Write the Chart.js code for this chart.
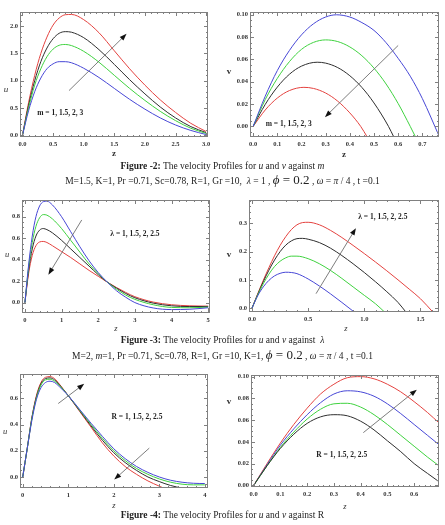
<!DOCTYPE html>
<html>
<head>
<meta charset="utf-8">
<script src="https://cdn.jsdelivr.net/npm/chart.js@4.4.1/dist/chart.umd.min.js"></script>
<style>
  html, body { margin: 0; padding: 0; background: #fff; }
  #page { position: relative; width: 445px; height: 525px; overflow: hidden; background: #fff; }
  #page canvas { position: absolute; }
  .cap { position: absolute; left: 0; width: 445px; text-align: center; white-space: nowrap;
         font-family: "Liberation Serif", "DejaVu Serif", serif; font-size: 9.5px; line-height: 10px; color: #222; }
  .cap .big { font-size: 13px; line-height: 10px; }
</style>
</head>
<body>
<div id="page">
  <canvas id="p1"></canvas>
  <canvas id="p2"></canvas>
  <div class="cap" style="top:161px"><b>Figure -2:</b> The velocity Profiles for <i>u</i> and <i>v</i> against <i>m</i></div>
  <div class="cap" style="top:175px">M=1.5, K=1, Pr =0.71, Sc=0.78, R=1, Gr =10,&nbsp; <i>λ</i> = 1 , <span class="big"><i>ϕ</i> = 0.2</span> , <i>ω</i> = <i>π</i> / 4 , t =0.1</div>
  <canvas id="p3"></canvas>
  <canvas id="p4"></canvas>
  <div class="cap" style="top:335px"><b>Figure -3:</b> The velocity Profiles for <i>u</i> and <i>v</i> against&nbsp; <i>λ</i></div>
  <div class="cap" style="top:350px">M=2, <i>m</i>=1, Pr =0.71, Sc=0.78, R=1, Gr =10, K=1, <span class="big"><i>ϕ</i> = 0.2</span> , <i>ω</i> = <i>π</i> / 4 , t =0.1</div>
  <canvas id="p5"></canvas>
  <canvas id="p6"></canvas>
  <div class="cap" style="top:510px"><b>Figure -4:</b> The velocity Profiles for <i>u</i> and <i>v</i> against R</div>
  <div class="cap" style="top:525px">M=2, <i>m</i>=1, Pr =0.71, Sc=0.78, K=1, Gr =10, <i>λ</i> = 1 , <span class="big"><i>ϕ</i> = 0.2</span> , <i>ω</i> = <i>π</i> / 4 , t =0.1</div>
</div>

<script>
'use strict';

// ─── colours / fonts ───
const RED = '#e4423f';
const BLACK = '#2e2e2e';
const GREEN = '#3fd23f';
const BLUE = '#4747d6';
const SERIF = '"Liberation Serif", "DejaVu Serif", serif';

// ─── Figure 2, u against m ───
const p1Z     = [0, 0.1, 0.2, 0.3, 0.4, 0.5, 0.6, 0.7, 0.8, 1.0, 1.25, 1.5, 1.75, 2.0, 2.25, 2.5, 2.75, 3.0];
const p1Red   = [0, 0.60, 1.10, 1.50, 1.80, 2.02, 2.15, 2.21, 2.215, 2.12, 1.88, 1.55, 1.22, 0.92, 0.65, 0.42, 0.22, 0.07];
const p1Black = [0, 0.55, 1.00, 1.35, 1.60, 1.77, 1.87, 1.90, 1.89, 1.79, 1.57, 1.30, 1.02, 0.76, 0.52, 0.32, 0.16, 0.05];
const p1Green = [0, 0.50, 0.92, 1.22, 1.44, 1.58, 1.65, 1.665, 1.645, 1.54, 1.34, 1.10, 0.86, 0.64, 0.44, 0.27, 0.13, 0.035];
const p1Blue  = [0, 0.45, 0.80, 1.05, 1.22, 1.31, 1.35, 1.35, 1.33, 1.23, 1.06, 0.86, 0.66, 0.48, 0.32, 0.19, 0.09, 0.015];
const p1XTicks = [0, 0.5, 1.0, 1.5, 2.0, 2.5, 3.0];
const p1YTicks = [0, 0.5, 1.0, 1.5, 2.0];

// ─── Figure 2, v against m ───
const p2BlueZ  = [0, 0.05, 0.1, 0.15, 0.2, 0.25, 0.3, 0.345, 0.4, 0.45, 0.5, 0.55, 0.6, 0.65, 0.7, 0.77];
const p2Blue   = [0, 0.027, 0.050, 0.068, 0.082, 0.092, 0.098, 0.100, 0.098, 0.093, 0.086, 0.075, 0.061, 0.045, 0.025, -0.009];
const p2GreenZ = [0, 0.05, 0.1, 0.15, 0.2, 0.25, 0.3, 0.35, 0.4, 0.45, 0.5, 0.55, 0.6, 0.65, 0.672];
const p2Green  = [0, 0.024, 0.043, 0.058, 0.069, 0.0753, 0.0775, 0.076, 0.0712, 0.0633, 0.0522, 0.038, 0.0205, 0.0, -0.0095];
const p2BlackZ = [0, 0.05, 0.1, 0.15, 0.2, 0.265, 0.3, 0.35, 0.4, 0.45, 0.5, 0.56, 0.582];
const p2Black  = [0, 0.0197, 0.0352, 0.0467, 0.054, 0.0575, 0.0567, 0.0527, 0.0454, 0.0349, 0.021, 0.0, -0.0095];
const p2RedZ   = [0, 0.05, 0.1, 0.15, 0.21, 0.25, 0.3, 0.35, 0.4, 0.445, 0.472];
const p2Red    = [0, 0.0147, 0.0254, 0.0321, 0.035, 0.034, 0.0299, 0.0226, 0.0121, 0.0, -0.0095];
const p2XTicks = [0, 0.1, 0.2, 0.3, 0.4, 0.5, 0.6, 0.7];
const p2YTicks = [0, 0.02, 0.04, 0.06, 0.08, 0.10];

// ─── Figure 3, u against lambda ───
const p3Z     = [0, 0.1, 0.2, 0.3, 0.4, 0.5, 0.6, 0.75, 1.0, 1.25, 1.5, 1.75, 2.0, 2.25, 2.5, 2.75, 3.0, 3.5, 4.0, 4.5, 5.0];
const p3Blue  = [0, 0.35, 0.62, 0.80, 0.90, 0.94, 0.945, 0.91, 0.80, 0.66, 0.52, 0.39, 0.28, 0.19, 0.11, 0.05, 0.0, -0.05, -0.065, -0.062, -0.048];
const p3Green = [0, 0.33, 0.56, 0.71, 0.79, 0.82, 0.815, 0.78, 0.69, 0.58, 0.47, 0.36, 0.27, 0.19, 0.125, 0.07, 0.03, -0.02, -0.045, -0.048, -0.042];
const p3Black = [0, 0.30, 0.50, 0.62, 0.675, 0.69, 0.68, 0.65, 0.58, 0.50, 0.42, 0.34, 0.26, 0.19, 0.135, 0.085, 0.045, -0.005, -0.03, -0.037, -0.036];
const p3Red   = [0, 0.27, 0.44, 0.53, 0.565, 0.57, 0.56, 0.53, 0.475, 0.42, 0.36, 0.30, 0.245, 0.19, 0.14, 0.095, 0.055, 0.005, -0.02, -0.03, -0.033];
const p3XTicks = [0, 1, 2, 3, 4, 5];
const p3YTicks = [0, 0.2, 0.4, 0.6, 0.8];

// ─── Figure 3, v against lambda ───
const p4RedZ   = [0, 0.05, 0.1, 0.15, 0.2, 0.25, 0.3, 0.35, 0.4, 0.45, 0.5, 0.6, 0.7, 0.8, 0.9, 1.0, 1.1, 1.2, 1.3, 1.4, 1.5, 1.61];
const p4Red    = [0, 0.05, 0.098, 0.143, 0.185, 0.222, 0.253, 0.278, 0.295, 0.303, 0.304, 0.295, 0.275, 0.25, 0.222, 0.193, 0.163, 0.132, 0.10, 0.067, 0.033, -0.014];
const p4BlackZ = [0, 0.05, 0.1, 0.15, 0.2, 0.25, 0.3, 0.35, 0.4, 0.45, 0.5, 0.6, 0.7, 0.8, 0.9, 1.0, 1.1, 1.2, 1.3, 1.37];
const p4Black  = [0, 0.048, 0.093, 0.134, 0.17, 0.20, 0.223, 0.238, 0.246, 0.247, 0.244, 0.232, 0.212, 0.186, 0.157, 0.126, 0.093, 0.058, 0.02, -0.014];
const p4GreenZ = [0, 0.05, 0.1, 0.15, 0.2, 0.25, 0.3, 0.35, 0.4, 0.5, 0.6, 0.7, 0.8, 0.9, 1.0, 1.1, 1.18];
const p4Green  = [0, 0.046, 0.086, 0.12, 0.147, 0.166, 0.178, 0.184, 0.184, 0.175, 0.157, 0.133, 0.105, 0.075, 0.045, 0.015, -0.014];
const p4BlueZ  = [0, 0.05, 0.1, 0.15, 0.2, 0.25, 0.3, 0.35, 0.4, 0.5, 0.6, 0.7, 0.8, 0.91];
const p4Blue   = [0, 0.043, 0.075, 0.098, 0.114, 0.123, 0.127, 0.126, 0.122, 0.103, 0.078, 0.05, 0.02, -0.014];
const p4XTicks = [0, 0.5, 1.0, 1.5];
const p4YTicks = [0, 0.1, 0.2, 0.3];

// ─── Figure 4, u against R ───
const p5Z      = [0, 0.1, 0.2, 0.3, 0.4, 0.5, 0.6, 0.7, 0.8, 1.0, 1.25, 1.5, 1.75, 2.0, 2.25, 2.5, 2.75, 3.0, 3.25, 3.5, 3.75, 4.0];
const p5RedZ   = [0, 0.1, 0.2, 0.3, 0.4, 0.5, 0.6, 0.7, 0.8, 1.0, 1.25, 1.5, 1.75, 2.0, 2.25, 2.5, 2.75, 3.0, 3.1];
const p5Red    = [0, 0.22, 0.45, 0.62, 0.72, 0.76, 0.765, 0.75, 0.71, 0.62, 0.50, 0.38, 0.26, 0.16, 0.08, 0.02, -0.03, -0.07, -0.085];
const p5BlackZ = [0, 0.1, 0.2, 0.3, 0.4, 0.5, 0.6, 0.7, 0.8, 1.0, 1.25, 1.5, 1.75, 2.0, 2.25, 2.5, 2.75, 3.0, 3.25, 3.5];
const p5Black  = [0, 0.22, 0.45, 0.61, 0.71, 0.75, 0.755, 0.74, 0.705, 0.62, 0.505, 0.39, 0.28, 0.185, 0.11, 0.05, 0.0, -0.035, -0.065, -0.085];
const p5Green  = [0, 0.22, 0.44, 0.60, 0.70, 0.74, 0.745, 0.73, 0.70, 0.62, 0.51, 0.40, 0.295, 0.20, 0.125, 0.065, 0.02, -0.015, -0.04, -0.055, -0.06, -0.06];
const p5Blue   = [0, 0.22, 0.43, 0.59, 0.68, 0.72, 0.73, 0.72, 0.69, 0.62, 0.515, 0.41, 0.31, 0.215, 0.14, 0.08, 0.035, 0.0, -0.025, -0.04, -0.048, -0.05];
const p5XTicks = [0, 1, 2, 3, 4];
const p5YTicks = [0, 0.2, 0.4, 0.6];

// ─── Figure 4, v against R ───
const p6Z     = [0, 0.05, 0.1, 0.15, 0.2, 0.25, 0.3, 0.35, 0.4, 0.45, 0.5, 0.55, 0.6, 0.65, 0.695];
const p6Red   = [0, 0.020, 0.039, 0.056, 0.071, 0.084, 0.093, 0.099, 0.100, 0.098, 0.093, 0.086, 0.077, 0.067, 0.057];
const p6Blue  = [0, 0.019, 0.037, 0.052, 0.065, 0.076, 0.084, 0.087, 0.086, 0.082, 0.075, 0.066, 0.056, 0.046, 0.037];
const p6Green = [0, 0.018, 0.035, 0.049, 0.061, 0.070, 0.075, 0.0755, 0.072, 0.065, 0.056, 0.046, 0.036, 0.026, 0.0176];
const p6Black = [0, 0.018, 0.034, 0.047, 0.057, 0.063, 0.065, 0.064, 0.059, 0.051, 0.041, 0.031, 0.020, 0.011, 0.003];
const p6XTicks = [0, 0.1, 0.2, 0.3, 0.4, 0.5, 0.6];
const p6YTicks = [0, 0.02, 0.04, 0.06, 0.08, 0.10];

// ─── Mathematica-style frame, inward ticks, arrows, notes, axis letters ───
const PAD_T = 6, PAD_R = 6, XH = 26;

function minorList(min, max, step) {
  const out = [];
  for (let i = Math.ceil(min / step - 1e-9); i * step <= max + 1e-9; i++) out.push(i * step);
  return out;
}

const framePlugin = {
  id: 'frame',
  afterDraw(chart, args, p) {
    const { ctx, chartArea: a } = chart;
    const sx = chart.scales.x, sy = chart.scales.y;
    ctx.save();

    // frame
    ctx.strokeStyle = '#808080';
    ctx.lineWidth = 1;
    ctx.strokeRect(Math.round(a.left) + 0.5, Math.round(a.top) + 0.5,
                   Math.round(a.width) - 1, Math.round(a.height) - 1);

    // ticks on all four sides
    ctx.beginPath();
    const xs = [[minorList(p.x[0], p.x[1], p.xMinor), 2], [p.xTicks, 4]];
    for (const [vals, len] of xs) {
      for (const v of vals) {
        const px = Math.round(sx.getPixelForValue(v)) + 0.5;
        ctx.moveTo(px, a.bottom); ctx.lineTo(px, a.bottom - len);
        ctx.moveTo(px, a.top);    ctx.lineTo(px, a.top + len);
      }
    }
    const ys = [[minorList(p.y[0], p.y[1], p.yMinor), 2], [p.yTicks, 4]];
    for (const [vals, len] of ys) {
      for (const v of vals) {
        const py = Math.round(sy.getPixelForValue(v)) + 0.5;
        ctx.moveTo(a.left, py);  ctx.lineTo(a.left + len, py);
        ctx.moveTo(a.right, py); ctx.lineTo(a.right - len, py);
      }
    }
    ctx.stroke();

    // arrows (data coords)
    for (const [x0, y0, x1, y1] of p.arrows) {
      const ax = sx.getPixelForValue(x0), ay = sy.getPixelForValue(y0);
      const bx = sx.getPixelForValue(x1), by = sy.getPixelForValue(y1);
      const ang = Math.atan2(by - ay, bx - ax);
      ctx.strokeStyle = '#6e6e6e';
      ctx.lineWidth = 0.9;
      ctx.beginPath();
      ctx.moveTo(ax, ay);
      ctx.lineTo(bx - 4 * Math.cos(ang), by - 4 * Math.sin(ang));
      ctx.stroke();
      ctx.fillStyle = '#111';
      ctx.beginPath();
      ctx.moveTo(bx, by);
      ctx.lineTo(bx - 7 * Math.cos(ang) + 2.6 * Math.sin(ang), by - 7 * Math.sin(ang) - 2.6 * Math.cos(ang));
      ctx.lineTo(bx - 7 * Math.cos(ang) - 2.6 * Math.sin(ang), by - 7 * Math.sin(ang) + 2.6 * Math.cos(ang));
      ctx.closePath();
      ctx.fill();
    }

    // parameter note
    ctx.fillStyle = '#1e1e1e';
    ctx.font = 'bold 7.5px ' + SERIF;
    ctx.textAlign = 'left';
    ctx.textBaseline = 'middle';
    ctx.fillText(p.note.text, sx.getPixelForValue(p.note.x), sy.getPixelForValue(p.note.y));

    // axis letters (page coords -> canvas coords)
    ctx.textAlign = 'center';
    ctx.fillStyle = '#333';
    ctx.font = p.yLab.font + ' ' + SERIF;
    ctx.fillText(p.yLab.text, p.yLab.at[0] - p.origin[0], p.yLab.at[1] - p.origin[1]);
    ctx.font = p.zLab.font + ' ' + SERIF;
    ctx.fillText(p.zLab.text, p.zLab.at[0] - p.origin[0], p.zLab.at[1] - p.origin[1]);

    ctx.restore();
  },
};

function curve(z, v, color) {
  return {
    data: z.map((x, i) => ({ x, y: v[i] })),
    borderColor: color,
    borderWidth: 1,
    pointRadius: 0,
    fill: false,
    cubicInterpolationMode: 'monotone',
  };
}

function makePanel(id, p) {
  const [l, t, r, b] = p.area;
  const W = p.yw + (r - l) + PAD_R;
  const H = PAD_T + (b - t) + XH;
  p.origin = [l - p.yw, t - PAD_T];
  const cv = document.getElementById(id);
  cv.width = W; cv.height = H;
  cv.style.left = p.origin[0] + 'px';
  cv.style.top = p.origin[1] + 'px';
  cv.style.width = W + 'px';
  cv.style.height = H + 'px';

  const tickFont = { family: SERIF, size: 6.5, weight: 'bold' };

  new Chart(cv, {
    type: 'line',
    data: { datasets: p.series },
    options: {
      responsive: false,
      animation: false,
      events: [],
      layout: { padding: { top: PAD_T, right: PAD_R, left: 0, bottom: 0 } },
      plugins: { legend: { display: false }, tooltip: { enabled: false }, frame: p },
      scales: {
        x: {
          type: 'linear', min: p.x[0], max: p.x[1],
          grid: { display: false, drawTicks: false },
          border: { display: false },
          afterBuildTicks: (ax) => { ax.ticks = p.xTicks.map(v => ({ value: v })); },
          afterFit: (ax) => { ax.height = XH; },
          ticks: { autoSkip: false, maxRotation: 0, minRotation: 0, padding: 3, color: '#333',
                   font: tickFont, callback: (v) => Number(v).toFixed(p.xDec) },
        },
        y: {
          type: 'linear', min: p.y[0], max: p.y[1],
          grid: { display: false, drawTicks: false },
          border: { display: false },
          afterBuildTicks: (ax) => { ax.ticks = p.yTicks.map(v => ({ value: v })); },
          afterFit: (ax) => { ax.width = p.yw; },
          ticks: { autoSkip: false, padding: 2, color: '#333',
                   font: tickFont, callback: (v) => Number(v).toFixed(p.yDec) },
        },
      },
    },
    plugins: [framePlugin],
  });
}

makePanel('p1', {
  area: [20, 12, 208, 137], yw: 20,
  x: [-0.04, 3.03], y: [-0.03, 2.26],
  xTicks: p1XTicks, yTicks: p1YTicks, xDec: 1, yDec: 1, xMinor: 0.1, yMinor: 0.1,
  series: [curve(p1Z, p1Blue, BLUE), curve(p1Z, p1Green, GREEN), curve(p1Z, p1Black, BLACK), curve(p1Z, p1Red, RED)],
  arrows: [[0.76, 0.82, 1.70, 1.86]],
  note: { text: 'm = 1, 1.5, 2, 3', x: 0.24, y: 0.40 },
  yLab: { text: 'u', at: [6, 90], font: 'italic 9px' },
  zLab: { text: 'z', at: [114, 154], font: 'bold 9px' },
});

makePanel('p2', {
  area: [250, 12, 439, 137], yw: 26,
  x: [-0.013, 0.769], y: [-0.0095, 0.1025],
  xTicks: p2XTicks, yTicks: p2YTicks, xDec: 1, yDec: 2, xMinor: 0.02, yMinor: 0.005,
  series: [curve(p2BlueZ, p2Blue, BLUE), curve(p2GreenZ, p2Green, GREEN), curve(p2BlackZ, p2Black, BLACK), curve(p2RedZ, p2Red, RED)],
  arrows: [[0.60, 0.0725, 0.297, 0.0083]],
  note: { text: 'm = 1, 1.5, 2, 3', x: 0.052, y: 0.0025 },
  yLab: { text: 'v', at: [229, 72], font: 'bold 9px' },
  zLab: { text: 'z', at: [344, 155], font: 'bold 9px' },
});

makePanel('p3', {
  area: [22, 200, 210, 313], yw: 22,
  x: [-0.08, 5.05], y: [-0.097, 0.956],
  xTicks: p3XTicks, yTicks: p3YTicks, xDec: 0, yDec: 1, xMinor: 0.2, yMinor: 0.05,
  series: [curve(p3Z, p3Blue, BLUE), curve(p3Z, p3Green, GREEN), curve(p3Z, p3Black, BLACK), curve(p3Z, p3Red, RED)],
  arrows: [[1.55, 0.77, 0.64, 0.26]],
  note: { text: 'λ = 1, 1.5, 2, 2.5', x: 2.33, y: 0.635 },
  yLab: { text: 'u', at: [7, 255], font: 'italic 8.5px' },
  zLab: { text: 'z', at: [116, 329], font: 'italic 8.5px' },
});

makePanel('p4', {
  area: [249, 200, 439, 312], yw: 26,
  x: [-0.027, 1.665], y: [-0.014, 0.383],
  xTicks: p4XTicks, yTicks: p4YTicks, xDec: 1, yDec: 1, xMinor: 0.1, yMinor: 0.02,
  series: [curve(p4BlueZ, p4Blue, BLUE), curve(p4GreenZ, p4Green, GREEN), curve(p4BlackZ, p4Black, BLACK), curve(p4RedZ, p4Red, RED)],
  arrows: [[0.57, 0.051, 0.925, 0.283]],
  note: { text: 'λ = 1, 1.5, 2, 2.5', x: 0.946, y: 0.322 },
  yLab: { text: 'v', at: [229, 255], font: 'bold 9px' },
  zLab: { text: 'z', at: [346, 329], font: 'italic 8.5px' },
});

makePanel('p5', {
  area: [20, 374, 208, 488], yw: 20,
  x: [-0.06, 4.07], y: [-0.084, 0.785],
  xTicks: p5XTicks, yTicks: p5YTicks, xDec: 0, yDec: 1, xMinor: 0.2, yMinor: 0.05,
  series: [curve(p5Z, p5Blue, BLUE), curve(p5Z, p5Green, GREEN), curve(p5BlackZ, p5Black, BLACK), curve(p5RedZ, p5Red, RED)],
  arrows: [[0.78, 0.56, 1.35, 0.71], [2.78, 0.22, 2.01, -0.02]],
  note: { text: 'R = 1, 1.5, 2, 2.5', x: 1.95, y: 0.46 },
  yLab: { text: 'u', at: [5, 432], font: 'italic 8.5px' },
  zLab: { text: 'z', at: [114, 506], font: 'italic 8.5px' },
});

makePanel('p6', {
  area: [251, 375, 439, 487], yw: 26,
  x: [-0.01, 0.693], y: [-0.0015, 0.1015],
  xTicks: p6XTicks, yTicks: p6YTicks, xDec: 1, yDec: 2, xMinor: 0.02, yMinor: 0.005,
  series: [curve(p6Z, p6Black, BLACK), curve(p6Z, p6Green, GREEN), curve(p6Z, p6Blue, BLUE), curve(p6Z, p6Red, RED)],
  arrows: [[0.41, 0.0485, 0.61, 0.088]],
  note: { text: 'R = 1, 1.5, 2, 2.5', x: 0.234, y: 0.028 },
  yLab: { text: 'v', at: [229, 402], font: 'bold 9px' },
  zLab: { text: 'z', at: [345, 507], font: 'italic 8.5px' },
});
</script>
</body>
</html>
